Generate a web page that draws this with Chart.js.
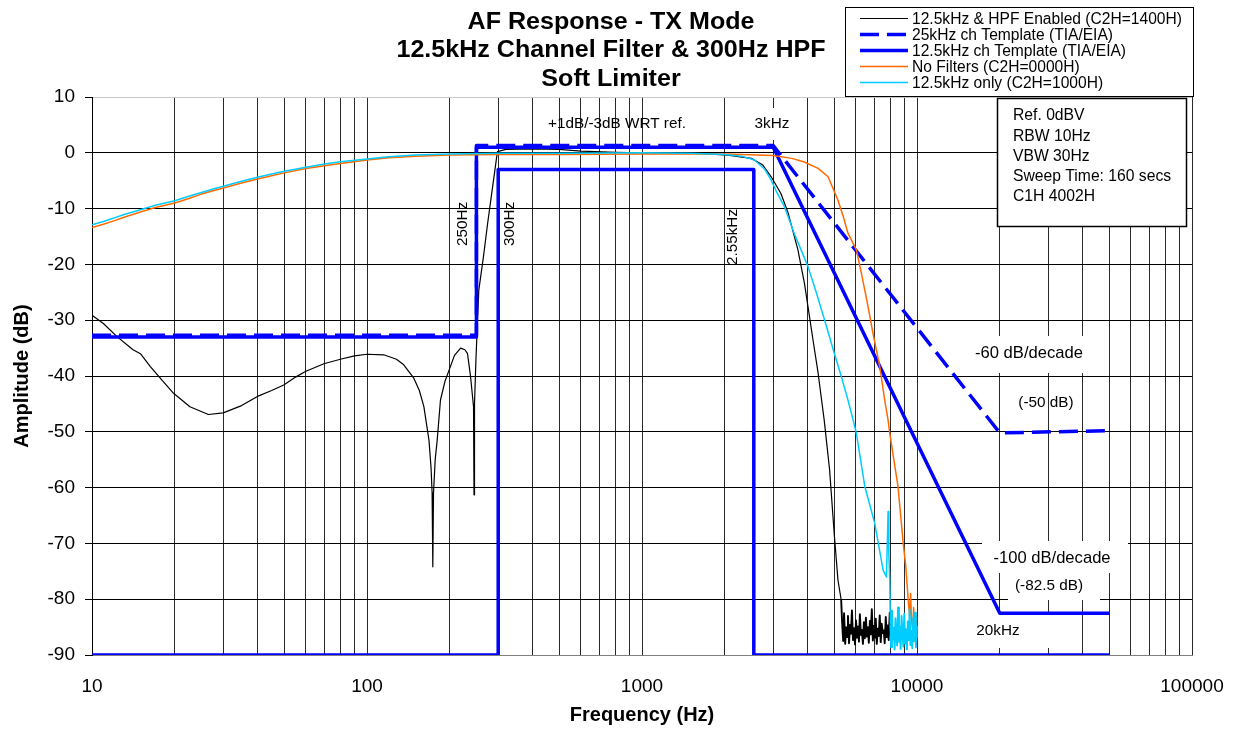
<!DOCTYPE html>
<html>
<head>
<meta charset="utf-8">
<title>AF Response - TX Mode</title>
<script src="https://cdn.jsdelivr.net/npm/chart.js@4.4.0/dist/chart.umd.min.js"></script>
<style>
  html, body { margin: 0; padding: 0; background: #fff; }
  #wrap { width: 1238px; height: 735px; }
</style>
</head>
<body>
<div id="wrap"><canvas id="afChart" width="1238" height="735"></canvas></div>
<script>
// 轴刻度
const xGridValues = [10, 20, 30, 40, 50, 60, 70, 80, 90,
  100, 200, 300, 400, 500, 600, 700, 800, 900,
  1000, 2000, 3000, 4000, 5000, 6000, 7000, 8000, 9000,
  10000, 20000, 30000, 40000, 50000, 60000, 70000, 80000, 90000, 100000];
const xLabelValues = [10, 100, 1000, 10000, 100000];
const yTickMin = -90;
const yTickMax = 10;

// 12.5kHz & HPF Enabled (C2H=1400H)  [Hz, dB]
const hpfTrace = [
  [10, -29.1], [11, -30.6], [12.3, -32.9], [14.1, -35.3], [15, -36.0], [16.3, -38.3], [18, -40.8], [19.8, -43.1],
  [22.7, -45.5], [26.5, -46.9], [30, -46.6], [35, -45.3], [39.8, -43.7], [45, -42.6], [49.8, -41.6],
  [55, -40.2], [59.7, -39.2], [69.7, -37.8], [80, -37.0], [90, -36.4], [100, -36.1], [115, -36.2],
  [128, -37.0], [136, -38.0], [148, -40.4], [155, -42.6], [161, -45.5], [168, -51.5], [171, -56.5],
  [172.5, -61.0], [173.5, -74.2], [174.5, -61.0], [177, -55.0], [180, -51.5], [185, -44.3], [192, -41.0],
  [199, -38.9], [208, -36.3], [219, -35.0], [227, -35.3], [232, -36.0], [238, -40.1], [244, -45.5],
  [245, -61.3], [246, -45.0], [249, -37.0], [252, -30.6], [255, -24.6], [265, -18.7], [275, -12.4],
  [287, -5.7], [298, 0.2], [320, 0.6], [400, 0.7], [500, 0.6], [600, 0.3], [800, 0.1], [1000, 0.0],
  [1500, 0.0], [2050, -0.4], [2500, -1.0], [2750, -2.2], [2950, -4.3], [3200, -7.3], [3400, -10.8],
  [3690, -17.4], [3900, -23.5], [4015, -27.6], [4200, -34.0], [4370, -39.5], [4600, -48.0], [4810, -56.8],
  [5010, -68.8], [5160, -76.6], [5300, -80.1],
  [5340, -84.0], [5390, -87.5], [5430, -82.5], [5480, -88.0], [5520, -85.0], [5570, -86.8], [5610, -83.0],
  [5660, -87.9], [5710, -84.6], [5750, -86.2], [5800, -82.0], [5850, -87.3], [5900, -85.2], [5950, -88.1],
  [6000, -83.8], [6050, -86.9], [6100, -84.9], [6150, -87.6], [6200, -82.7], [6250, -86.4], [6300, -85.5],
  [6360, -88.0], [6410, -84.1], [6460, -87.0], [6520, -83.3], [6570, -86.7], [6630, -85.0], [6680, -87.8],
  [6740, -83.9], [6790, -86.3], [6850, -81.8], [6910, -87.4], [6970, -84.8], [7020, -86.9], [7080, -83.5],
  [7140, -88.0], [7200, -85.3], [7260, -86.6], [7320, -82.9], [7380, -87.7], [7440, -84.4], [7510, -86.1],
  [7570, -85.6], [7630, -87.9], [7700, -83.2], [7760, -86.8], [7830, -84.7], [7890, -87.3], [7960, -82.4],
  [8030, -86.5]
];

// 25kHz ch Template (TIA/EIA)
const template25 = [
  [10, -32.7], [250, -32.7], [250, 1.3], [3000, 1.3], [20000, -50.2], [50000, -49.8]
];

// 12.5kHz ch Template (TIA/EIA): 上限 + 下限
const template125Upper = [
  [10, -33], [250, -33], [250, 1], [3000, 1], [20000, -82.5], [50000, -82.5]
];
const template125Lower = [
  [10, -90], [300, -90], [300, -3], [2550, -3], [2550, -90], [50000, -90]
];

// No Filters (C2H=0000H)
const noFilterTrace = [
  [10, -13.4], [11, -12.8], [12, -12.2], [13, -11.6], [15, -10.6], [17, -9.8], [20, -9.0], [22.5, -8.2],
  [25, -7.4], [28, -6.7], [30, -6.3], [35, -5.4], [40, -4.7], [45, -4.1], [50, -3.6], [60, -2.8],
  [70, -2.3], [80, -1.9], [100, -1.3], [120, -0.9], [150, -0.6], [200, -0.4], [300, -0.3], [500, -0.3],
  [1000, -0.2], [2000, -0.2], [3000, -0.5], [3500, -1.0], [3870, -1.6], [4370, -2.8], [4750, -4.3],
  [5160, -8.5], [5400, -11.5], [5610, -14.4], [6020, -17.4], [6280, -21.6], [6640, -27.6], [6920, -32.4],
  [7320, -38.3], [7630, -44.3], [7850, -47.9], [7960, -50.3], [8530, -59.8], [8910, -70.0], [9100, -74.0],
  [9290, -80.1], [9400, -83.0], [9480, -79.0], [9550, -83.7], [9650, -86.0], [9720, -81.5], [9790, -84.0],
  [9880, -88.0], [9950, -83.0], [10000, -87.0]
];

// 12.5kHz only (C2H=1000H)
const filterOnlyTrace = [
  [10, -12.9], [11, -12.3], [12, -11.7], [13, -11.1], [15, -10.2], [17, -9.4], [20, -8.6], [22.5, -7.8],
  [25, -7.1], [28, -6.4], [30, -6.0], [35, -5.1], [40, -4.4], [45, -3.8], [50, -3.3], [60, -2.6],
  [70, -2.0], [80, -1.6], [100, -1.1], [120, -0.7], [150, -0.4], [200, -0.2], [300, -0.1], [500, -0.1],
  [1000, 0.0], [1500, -0.1], [2000, -0.3], [2300, -0.6], [2565, -1.3], [2800, -3.0], [2950, -4.9],
  [3100, -7.2], [3300, -9.7], [3600, -14.8], [4015, -20.4], [4300, -25.0], [4615, -30.0], [5010, -36.0],
  [5300, -40.0], [5610, -44.3], [5860, -47.9], [6020, -50.3], [6460, -59.8], [7020, -66.4], [7530, -74.8],
  [7740, -76.0], [7800, -70.0], [7850, -64.3], [7900, -72.0], [7960, -76.6],
  [8000, -84.5], [8050, -88.6], [8110, -82.0], [8170, -87.2], [8230, -85.1], [8290, -89.0], [8350, -83.4],
  [8410, -86.8], [8470, -88.3], [8530, -81.5], [8600, -87.6], [8660, -84.9], [8720, -88.9], [8790, -83.0],
  [8850, -86.2], [8920, -88.5], [8990, -82.6], [9050, -87.9], [9120, -85.4], [9190, -89.0], [9260, -84.0],
  [9330, -87.3], [9400, -81.8], [9470, -88.2], [9540, -85.7], [9610, -88.8], [9690, -83.3], [9760, -87.5],
  [9840, -82.4], [9910, -88.6], [9990, -84.8]
];

const FONT = '"Liberation Sans", Arial, sans-serif';
const BLUE = '#0000ff';
const ORANGE = '#ff6a00';
const CYAN = '#00ccff';

const titleLines = ['AF Response - TX Mode', '12.5kHz Channel Filter & 300Hz HPF', 'Soft Limiter'];
const legendItems = [
  { text: '12.5kHz & HPF Enabled (C2H=1400H)', color: '#000', width: 1.2, dash: [] },
  { text: '25kHz ch Template (TIA/EIA)', color: BLUE, width: 3.5, dash: [19, 8] },
  { text: '12.5kHz ch Template (TIA/EIA)', color: BLUE, width: 3.5, dash: [] },
  { text: 'No Filters (C2H=0000H)', color: ORANGE, width: 1.5, dash: [] },
  { text: '12.5kHz only (C2H=1000H)', color: CYAN, width: 1.5, dash: [] }
];
const infoLines = ['Ref. 0dBV', 'RBW 10Hz', 'VBW 30Hz', 'Sweep Time: 160 secs', 'C1H 4002H'];

function toPoints(arr) {
  return arr.map(p => ({ x: p[0], y: p[1] }));
}

// noiseFrom: 从这个频率开始的噪底段画粗一点
function lineSet(label, arr, color, width, dash, noiseFrom) {
  const ds = {
    label: label,
    data: toPoints(arr),
    showLine: true,
    borderColor: color,
    backgroundColor: color,
    borderWidth: width,
    borderDash: dash || [],
    borderJoinStyle: 'round',
    pointRadius: 0,
    pointHoverRadius: 0,
    fill: false,
    tension: 0
  };
  if (noiseFrom) {
    ds.segment = {
      borderWidth: c => (c.p0.parsed.x >= noiseFrom ? 1.9 : width)
    };
  }
  return ds;
}

// 标注、图例、标题
const overlayPlugin = {
  id: 'overlay',
  beforeDatasetsDraw(chart) {
    const ctx = chart.ctx;
    ctx.save();
    ctx.fillStyle = '#fff';
    // 标注文字后面的白底
    [[966, 336, 132, 37], [982, 541, 146, 32], [1008, 573, 92, 27], [965, 614, 95, 34], [750, 108, 45, 32]]
      .forEach(b => ctx.fillRect(b[0], b[1], b[2], b[3]));
    ctx.restore();
  },
  afterDraw(chart) {
    const ctx = chart.ctx;
    ctx.save();

    // title (略微横向拉宽)
    ctx.fillStyle = '#000';
    ctx.textAlign = 'center';
    ctx.textBaseline = 'alphabetic';
    ctx.font = 'bold 23px ' + FONT;
    [29, 57, 86].forEach((y, i) => {
      ctx.save();
      ctx.translate(611, y);
      ctx.scale(1.09, 1);
      ctx.fillText(titleLines[i], 0, 0);
      ctx.restore();
    });

    // legend
    ctx.fillStyle = '#fff';
    ctx.fillRect(845, 7, 349, 90);
    ctx.strokeStyle = '#000';
    ctx.lineWidth = 1;
    ctx.setLineDash([]);
    ctx.strokeRect(845.5, 7.5, 348, 89);
    ctx.font = '15.6px ' + FONT;
    ctx.textAlign = 'left';
    ctx.textBaseline = 'middle';
    legendItems.forEach((it, i) => {
      const y = 18.5 + i * 16;
      ctx.strokeStyle = it.color;
      ctx.lineWidth = it.width;
      ctx.setLineDash(it.dash);
      ctx.beginPath();
      ctx.moveTo(860, y);
      ctx.lineTo(908, y);
      ctx.stroke();
      ctx.setLineDash([]);
      ctx.fillStyle = '#000';
      ctx.fillText(it.text, 912, y + 1);
    });

    // info box
    ctx.fillStyle = '#fff';
    ctx.fillRect(997, 98, 190, 129);
    ctx.strokeStyle = '#000';
    ctx.lineWidth = 1.5;
    ctx.strokeRect(997.5, 98.5, 189, 128);
    ctx.fillStyle = '#000';
    ctx.font = '15.7px ' + FONT;
    infoLines.forEach((t, i) => ctx.fillText(t, 1013, 116 + i * 20.25));

    // annotations
    ctx.textAlign = 'center';
    ctx.font = '15.3px ' + FONT;
    ctx.fillText('+1dB/-3dB WRT ref.', 617, 124);
    ctx.fillText('3kHz', 772, 124);
    ctx.fillText('(-50 dB)', 1046, 403);
    ctx.fillText('(-82.5 dB)', 1049, 586);
    ctx.fillText('20kHz', 998, 631);
    ctx.font = '16.6px ' + FONT;
    ctx.fillText('-60 dB/decade', 1029, 353);
    ctx.fillText('-100 dB/decade', 1052, 558);

    ctx.font = '15.3px ' + FONT;
    [['250Hz', 463, 224], ['300Hz', 510, 224], ['2.55kHz', 733, 237]].forEach(a => {
      ctx.save();
      ctx.translate(a[1], a[2]);
      ctx.rotate(-Math.PI / 2);
      ctx.fillText(a[0], 0, 0);
      ctx.restore();
    });

    ctx.restore();
  }
};

const ctx = document.getElementById('afChart').getContext('2d');

new Chart(ctx, {
  type: 'scatter',
  data: {
    datasets: [
      lineSet('12.5kHz only (C2H=1000H)', filterOnlyTrace, CYAN, 1.5, [], 7990),
      lineSet('No Filters (C2H=0000H)', noFilterTrace, ORANGE, 1.5),
      lineSet('12.5kHz ch Template (TIA/EIA)', template125Upper, BLUE, 3.5),
      lineSet('12.5kHz ch Template lower', template125Lower, BLUE, 3.5),
      lineSet('25kHz ch Template (TIA/EIA)', template25, BLUE, 3.5, [19, 8]),
      lineSet('12.5kHz & HPF Enabled (C2H=1400H)', hpfTrace, '#000', 1.2, [], 5300)
    ]
  },
  options: {
    responsive: false,
    animation: false,
    events: [],
    layout: { padding: { top: 97, right: 46, left: 0, bottom: 0 } },
    plugins: {
      legend: { display: false },
      tooltip: { enabled: false }
    },
    scales: {
      x: {
        type: 'logarithmic',
        min: xGridValues[0],
        max: xGridValues[xGridValues.length - 1],
        afterBuildTicks: function(scale) {
          scale.ticks = xGridValues.map(v => ({ value: v }));
        },
        afterFit: function(scale) {
          scale.height = 80;
          scale.paddingLeft = 0;
          scale.paddingRight = 0;
        },
        border: { display: true, color: '#808080', width: 1 },
        grid: { color: '#2a2a2a', lineWidth: 1, drawTicks: false },
        ticks: {
          autoSkip: false,
          maxRotation: 0,
          padding: 20,
          color: '#000',
          font: { family: FONT, size: 19 },
          callback: function(value) {
            return xLabelValues.includes(value) ? String(value) : '';
          }
        },
        title: {
          display: true,
          text: 'Frequency (Hz)',
          color: '#000',
          font: { family: FONT, size: 20, weight: 'bold' },
          padding: { top: 0, bottom: 8 }
        }
      },
      y: {
        min: yTickMin,
        max: yTickMax,
        afterFit: function(scale) {
          scale.width = 92;
          scale.paddingTop = 0;
          scale.paddingBottom = 0;
        },
        border: { display: true, color: '#000', width: 1 },
        grid: {
          color: (c) => (c.tick && c.tick.value === yTickMax ? '#c8c8c8' : '#000'),
          tickColor: '#000',
          lineWidth: 1,
          tickLength: 7
        },
        ticks: {
          stepSize: 10,
          padding: 10,
          color: '#000',
          font: { family: FONT, size: 19 }
        },
        title: {
          display: true,
          text: 'Amplitude (dB)',
          color: '#000',
          font: { family: FONT, size: 20, weight: 'bold' },
          padding: { top: 10, bottom: 0 }
        }
      }
    }
  },
  plugins: [overlayPlugin]
});
</script>
</body>
</html>
